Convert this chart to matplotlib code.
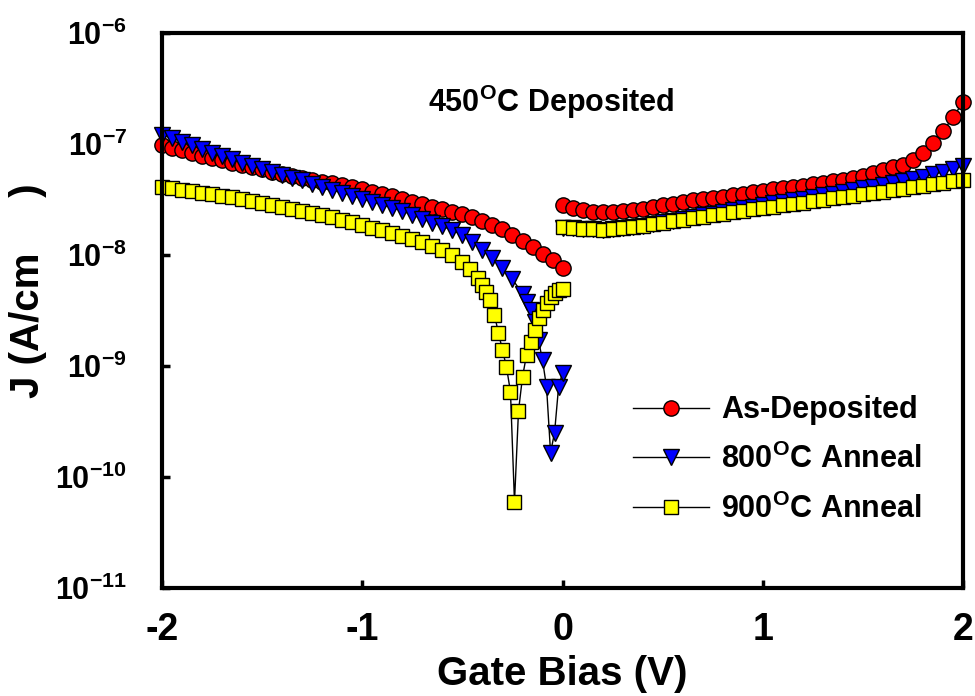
import numpy as np
import matplotlib
matplotlib.use('Agg')
import matplotlib.pyplot as plt

plt.rcParams['font.family'] = ['Liberation Sans', 'DejaVu Sans']
plt.rcParams['font.weight'] = 'bold'
plt.rcParams['mathtext.fontset'] = 'custom'
plt.rcParams['mathtext.rm'] = 'Liberation Sans:bold'
plt.rcParams['mathtext.bf'] = 'Liberation Sans:bold'
plt.rcParams['mathtext.it'] = 'Liberation Sans:bold'
plt.rcParams['mathtext.default'] = 'bf'
plt.rcParams['axes.unicode_minus'] = False

# 데이터: 전압(V)과 log10(J) 값
v_neg = [-2.00, -1.95, -1.90, -1.85, -1.80, -1.75, -1.70, -1.65, -1.60, -1.55,
         -1.50, -1.45, -1.40, -1.35, -1.30, -1.25, -1.20, -1.15, -1.10, -1.05,
         -1.00, -0.95, -0.90, -0.85, -0.80, -0.75, -0.70, -0.65, -0.60, -0.55,
         -0.50, -0.45, -0.40, -0.35, -0.30, -0.25, -0.20, -0.15, -0.10, -0.05, 0.00]
v_pos = [0.00, 0.05, 0.10, 0.15, 0.20, 0.25, 0.30, 0.35, 0.40, 0.45,
         0.50, 0.55, 0.60, 0.65, 0.70, 0.75, 0.80, 0.85, 0.90, 0.95,
         1.00, 1.05, 1.10, 1.15, 1.20, 1.25, 1.30, 1.35, 1.40, 1.45,
         1.50, 1.55, 1.60, 1.65, 1.70, 1.75, 1.80, 1.85, 1.90, 1.95, 2.00]

# As-Deposited
logj_as_neg = [-7.01, -7.035, -7.06, -7.085, -7.11, -7.13, -7.15, -7.17, -7.19, -7.21,
               -7.23, -7.25, -7.27, -7.29, -7.305, -7.325, -7.34, -7.355, -7.37, -7.39,
               -7.405, -7.43, -7.45, -7.47, -7.495, -7.52, -7.54, -7.565, -7.585, -7.61,
               -7.63, -7.66, -7.695, -7.73, -7.765, -7.82, -7.875, -7.93, -7.99, -8.05, -8.12]
logj_as_pos = [-7.55, -7.58, -7.60, -7.61, -7.613, -7.61, -7.604, -7.595, -7.586, -7.57,
               -7.555, -7.54, -7.523, -7.51, -7.50, -7.49, -7.477, -7.463, -7.45, -7.437,
               -7.423, -7.41, -7.40, -7.39, -7.378, -7.365, -7.35, -7.337, -7.324, -7.305,
               -7.288, -7.26, -7.234, -7.21, -7.189, -7.144, -7.081, -6.991, -6.883, -6.757, -6.622]

# 800C Anneal
v_800_neg = [-2.00, -1.95, -1.90, -1.85, -1.80, -1.75, -1.70, -1.65, -1.60, -1.55,
             -1.50, -1.45, -1.40, -1.35, -1.30, -1.25, -1.20, -1.15, -1.10, -1.05,
             -1.00, -0.95, -0.90, -0.85, -0.80, -0.75, -0.70, -0.65, -0.60, -0.55,
             -0.50, -0.45, -0.40, -0.35, -0.30, -0.25, -0.20, -0.18, -0.16, -0.14,
             -0.12, -0.10, -0.08, -0.06, -0.04, -0.02, 0.00]
logj_800_neg = [-6.92, -6.95, -6.98, -7.015, -7.045, -7.08, -7.11, -7.14, -7.17, -7.20,
                -7.225, -7.25, -7.28, -7.305, -7.33, -7.36, -7.387, -7.415, -7.44, -7.47,
                -7.495, -7.52, -7.55, -7.575, -7.604, -7.64, -7.675, -7.71, -7.74, -7.78,
                -7.82, -7.885, -7.955, -8.03, -8.117, -8.22, -8.35, -8.42, -8.495, -8.60,
                -8.77, -8.95, -9.19, -9.78, -9.60, -9.19, -9.06]
logj_800_pos = [-7.757, -7.762, -7.767, -7.771, -7.775, -7.766, -7.757, -7.748, -7.739, -7.723,
                -7.708, -7.692, -7.676, -7.66, -7.645, -7.629, -7.613, -7.597, -7.582, -7.566,
                -7.55, -7.536, -7.523, -7.509, -7.495, -7.479, -7.464, -7.448, -7.432, -7.416,
                -7.40, -7.385, -7.369, -7.351, -7.333, -7.315, -7.297, -7.275, -7.252, -7.225, -7.198]

# 900C Anneal
v_900_neg = [-2.00, -1.95, -1.90, -1.85, -1.80, -1.75, -1.70, -1.65, -1.60, -1.55,
             -1.50, -1.45, -1.40, -1.35, -1.30, -1.25, -1.20, -1.15, -1.10, -1.05,
             -1.00, -0.95, -0.90, -0.85, -0.80, -0.75, -0.70, -0.65, -0.60, -0.55,
             -0.50, -0.46, -0.42, -0.40, -0.38, -0.36, -0.34, -0.32, -0.30, -0.28,
             -0.26, -0.24, -0.22, -0.20, -0.18, -0.16, -0.14, -0.12, -0.10, -0.08,
             -0.06, -0.04, -0.02, 0.00]
logj_900_neg = [-7.387, -7.40, -7.414, -7.428, -7.441, -7.455, -7.468, -7.48, -7.495, -7.513,
                -7.53, -7.55, -7.568, -7.586, -7.604, -7.622, -7.64, -7.662, -7.685, -7.707,
                -7.73, -7.755, -7.78, -7.805, -7.829, -7.856, -7.883, -7.92, -7.955, -8.005,
                -8.063, -8.13, -8.21, -8.27, -8.33, -8.405, -8.541, -8.703, -8.856, -9.009,
                -9.234, -10.225, -9.405, -9.099, -8.901, -8.784, -8.676, -8.568, -8.495, -8.432,
                -8.378, -8.342, -8.315, -8.306]
logj_900_pos = [-7.748, -7.757, -7.766, -7.771, -7.775, -7.766, -7.757, -7.748, -7.739, -7.725,
                -7.712, -7.698, -7.685, -7.671, -7.658, -7.644, -7.631, -7.617, -7.604, -7.59,
                -7.577, -7.566, -7.555, -7.543, -7.532, -7.518, -7.505, -7.491, -7.477, -7.466,
                -7.455, -7.443, -7.432, -7.418, -7.405, -7.391, -7.378, -7.364, -7.351, -7.337, -7.324]

fig = plt.figure(figsize=(9.75, 6.96), dpi=100)
ax = fig.add_axes([0.166, 0.155, 0.822, 0.798])

series = [
    ('As-Deposited', 'o', 'red', 11, v_neg, logj_as_neg, v_pos, logj_as_pos),
    ('800$^{O}$C Anneal', 'v', 'blue', 11, v_800_neg, logj_800_neg, v_pos, logj_800_pos),
    ('900$^{O}$C Anneal', 's', 'yellow', 10, v_900_neg, logj_900_neg, v_pos, logj_900_pos),
]
for name, mk, col, ms, vn, ln, vp, lp in series:
    style = dict(color='black', lw=1, marker=mk, ms=ms, mfc=col, mec='black', mew=1)
    ax.plot(vn, 10 ** np.array(ln), label=name, clip_on=False, **style)
    ax.plot(vp, 10 ** np.array(lp), clip_on=False, **style)

ax.set_yscale('log')
ax.set_xlim(-2, 2)
ax.set_ylim(1e-11, 1e-6)
ax.set_xticks([-2, -1, 0, 1, 2])
ax.set_xticklabels(['-2', '-1', '0', '1', '2'])
ax.minorticks_off()
ax.set_yticks([1e-11, 1e-10, 1e-9, 1e-8, 1e-7, 1e-6])
ax.set_yticklabels(['10$^{-11}$', '10$^{-10}$', '10$^{-9}$', '10$^{-8}$', '10$^{-7}$', '10$^{-6}$'])
ax.tick_params(direction='in', length=6, width=2.5)
ax.tick_params(axis='x', labelsize=27, pad=17)
ax.tick_params(axis='y', labelsize=22, pad=25)
for s in ax.spines.values():
    s.set_linewidth(3)

ax.set_xlabel('Gate Bias (V)', fontsize=29, fontweight='bold')
ax.xaxis.set_label_coords(0.5, -0.12)
ax.set_ylabel('J (A/cm     )', fontsize=29, fontweight='bold')
ax.yaxis.set_label_coords(-0.143, 0.535)
ax.text(0.332, 0.876, '450$^{O}$C Deposited', transform=ax.transAxes, fontsize=22,
        fontweight='bold', va='center')

ax.legend(loc='center left', bbox_to_anchor=(0.572, 0.2306), frameon=False, fontsize=22,
          handlelength=2.5, labelspacing=0.6, handletextpad=0.4, borderaxespad=0)

fig.savefig('out.png', dpi=100)
